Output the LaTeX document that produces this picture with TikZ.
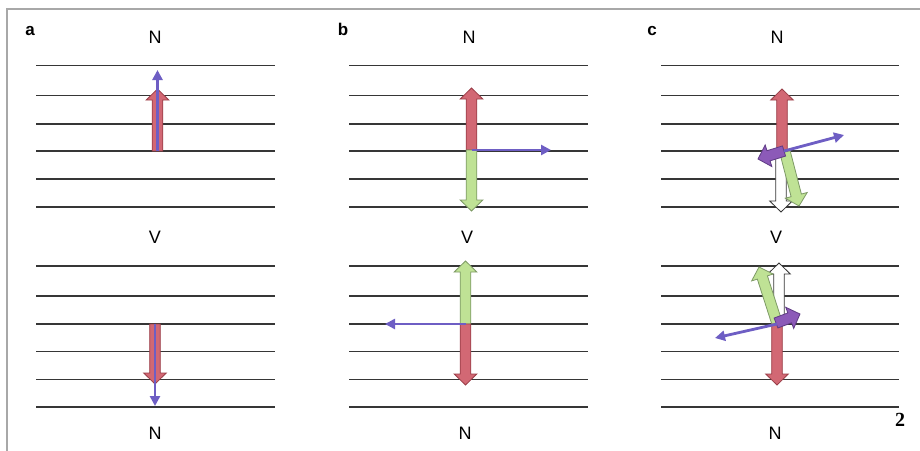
\documentclass[tikz,border=0pt]{standalone}
\usepackage{fontspec}
\setmainfont{Liberation Sans}
\newfontfamily\numfont{Liberation Serif}
\usetikzlibrary{arrows.meta}
\definecolor{redfill}{HTML}{D26874}
\definecolor{redline}{HTML}{9A3E48}
\definecolor{greenfill}{HTML}{BFE295}
\definecolor{greenline}{HTML}{7E9A66}
\definecolor{purplefill}{HTML}{8C5AB8}
\definecolor{purpleline}{HTML}{5E3A84}
\definecolor{bluearrow}{HTML}{6E5EC4}
\definecolor{framegray}{HTML}{A8A8A8}
\definecolor{linegray}{HTML}{363636}
\tikzset{
  layer/.style={draw=linegray, line width=1.8pt},
  lab/.style={font=\fontsize{18}{21}\selectfont, inner sep=0pt},
  panel/.style={font=\bfseries\fontsize{17}{20}\selectfont, inner sep=0pt, anchor=base},
  redarrow/.style={fill=redfill, draw=redline, line width=0.8pt, line join=miter},
  greenarrow/.style={fill=greenfill, draw=greenline, line width=0.8pt, line join=miter},
  whitearrow/.style={fill=white, draw=linegray, line width=0.8pt, line join=miter},
  purplearrow/.style={fill=purplefill, draw=purpleline, line width=0.8pt, line join=miter},
  thinarrow/.style={draw=bluearrow, line width=2.8pt, -{Triangle[length=10pt,width=10pt]}},
}
% block arrow: start x, start y, end x, end y, style
\newcommand{\blockarr}[5]{%
  \pgfmathsetmacro\bang{atan2(-(#4-#2),#3-#1)}%
  \pgfmathsetmacro\blen{veclen(#3-#1,#4-#2)}%
  \begin{scope}[shift={(#1,#2)}, rotate=\bang]
    \draw[#5] (0,-5.3) -- (\blen-11,-5.3) -- (\blen-11,-11.3) -- (\blen,0)
      -- (\blen-11,11.3) -- (\blen-11,5.3) -- (0,5.3) -- cycle;
  \end{scope}}
\newcommand{\layers}[3]{% xleft, xright, list of y
  \foreach \yy in {#3} {\draw[layer] (#1,\yy) -- (#2,\yy);}}
\begin{document}
\begin{tikzpicture}[x=1pt, y=-1pt]
\useasboundingbox (0,0) rectangle (920,450);
\fill[white] (0,0) rectangle (920,450);
\draw[framegray, line width=1.8pt] (7,451) -- (7,9) -- (921,9);

% layers
\foreach \xl/\xr in {36/275, 349/588, 661/899} {
  \layers{\xl}{\xr}{65.5,95.5,124,151,179,207}
  \layers{\xl}{\xr}{266,296,324,351.5,379.5,407}
}

% labels
\node[panel] (la) at (30,35) {a};
\node[panel] (lb) at (343,35) {b};
\node[panel] (lc) at (652,35) {c};
\node[lab] (aN1) at (155,37.5) {N};
\node[lab] (aV) at (155,237) {V};
\node[lab] (aN2) at (155,433) {N};
\node[lab] (bN1) at (469,37.5) {N};
\node[lab] (bV) at (467,237) {V};
\node[lab] (bN2) at (465,433) {N};
\node[lab] (cN1) at (777,37.5) {N};
\node[lab] (cV) at (776,237) {V};
\node[lab] (cN2) at (775,433) {N};
\node[inner sep=0pt, font=\numfont\bfseries\fontsize{20}{22}\selectfont] (num) at (900,420) {2};

% panel a
\blockarr{157.5}{151}{157.5}{89}{redarrow}
\draw[thinarrow] (157.5,151) -- (157.5,70);
\blockarr{155}{324}{155}{384}{redarrow}
\draw[thinarrow] (155,324) -- (155,406);

% panel b
\blockarr{471.5}{150}{471.5}{88}{redarrow}
\blockarr{471.5}{150}{471.5}{211}{greenarrow}
\draw[thinarrow] (471.5,150) -- (551,150);
\blockarr{465.5}{324}{465.5}{261}{greenarrow}
\blockarr{465.5}{324}{465.5}{385}{redarrow}
\draw[thinarrow] (465.5,324) -- (385,324);

% panel c top
\blockarr{781}{151}{781}{212}{whitearrow}
\blockarr{785}{152}{799}{206}{greenarrow}
\blockarr{782}{151}{782}{89}{redarrow}
\blockarr{784}{151}{758}{159}{purplearrow}
\draw[thinarrow] (784,151) -- (844,135);

% panel c bottom
\blockarr{779}{324}{779}{263}{whitearrow}
\blockarr{777}{323}{759}{267}{greenarrow}
\blockarr{777}{324}{777}{385}{redarrow}
\blockarr{776}{323}{800}{314}{purplearrow}
\draw[thinarrow] (777,324) -- (715,338);
\end{tikzpicture}
\end{document}
